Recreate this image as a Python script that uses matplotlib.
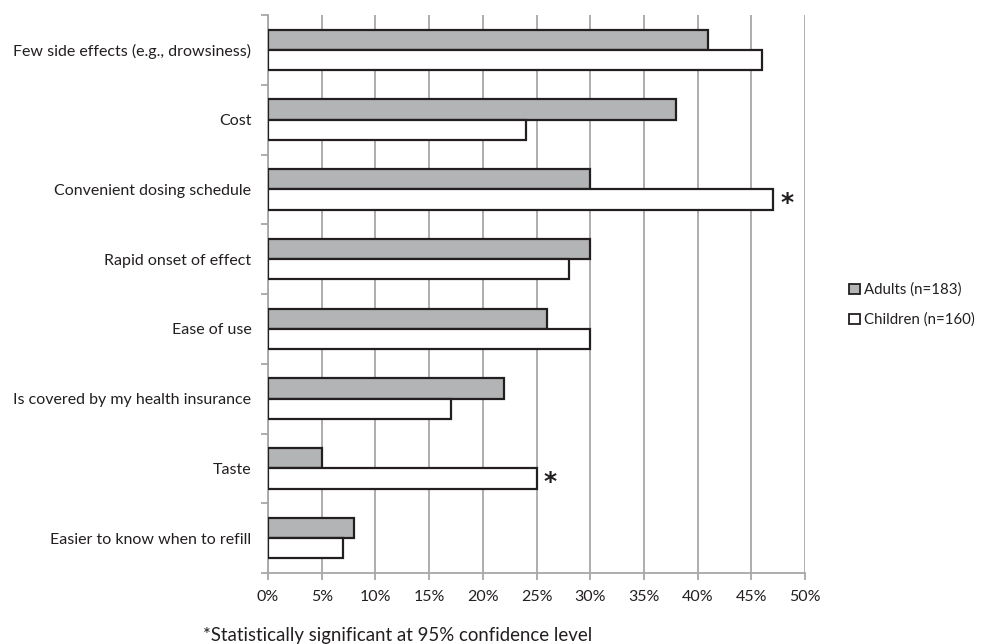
import matplotlib
matplotlib.use("Agg")
import matplotlib.pyplot as plt
from matplotlib.patches import Patch
from matplotlib.ticker import FixedLocator, FuncFormatter

plt.rcParams['font.family'] = ['Lato', 'DejaVu Sans']

categories = [
    "Few side effects (e.g., drowsiness)",
    "Cost",
    "Convenient dosing schedule",
    "Rapid onset of effect",
    "Ease of use",
    "Is covered by my health insurance",
    "Taste",
    "Easier to know when to refill",
]
adults = [41, 38, 30, 30, 26, 22, 5, 8]
children = [46, 24, 47, 28, 30, 17, 25, 7]
significant = [False, False, True, False, False, False, True, False]
series_labels = ["Adults (n=183)", "Children (n=160)"]
x_ticks = [0, 5, 10, 15, 20, 25, 30, 35, 40, 45, 50]
footnote = "*Statistically significant at 95% confidence level"

W, H = 981, 644
fig = plt.figure(figsize=(W / 100, H / 100), dpi=100)
ax = fig.add_axes([268 / W, (H - 573) / H, (805 - 268) / W, 558 / H])

grey_fill = "#b3b4b6"
edge = "#231f20"
grid_col = "#a7a7a9"
text_col = "#231f20"
fs = 11.5
bar_h = 0.292
n = len(categories)
ypos = list(range(n))

ax.barh([y - bar_h / 2 for y in ypos], adults, height=bar_h, color=grey_fill,
        edgecolor=edge, linewidth=1.6, zorder=3)
ax.barh([y + bar_h / 2 for y in ypos], children, height=bar_h, color="white",
        edgecolor=edge, linewidth=1.6, zorder=3)

# significance markers beside the children's bars
for y, val, sig in zip(ypos, children, significant):
    if sig:
        ax.text(val + 1.3, y + bar_h / 2 + 0.05, "*", fontsize=18, ha="center",
                va="center", color=edge, family="DejaVu Sans", fontweight="bold")

ax.set_xlim(0, 50)
ax.set_ylim(n - 0.5, -0.5)

ax.xaxis.set_major_locator(FixedLocator(x_ticks))
ax.xaxis.set_major_formatter(FuncFormatter(lambda v, p: f"{int(v)}%"))
ax.tick_params(axis="x", direction="out", length=5, width=1.3, color=grid_col,
               labelsize=fs, labelcolor=text_col, pad=7)
ax.grid(axis="x", color=grid_col, linewidth=1.3, zorder=0)
ax.set_axisbelow(True)

ax.set_yticks(ypos)
ax.set_yticklabels(categories)
ax.set_yticks([k - 0.5 for k in range(n + 1)], minor=True)
ax.tick_params(axis="y", which="major", length=0, pad=12, labelsize=fs,
               labelcolor=text_col)
ax.tick_params(axis="y", which="minor", direction="out", length=5, width=1.3,
               color=grid_col)

for side in ("top", "right"):
    ax.spines[side].set_visible(False)
for side in ("left", "bottom"):
    ax.spines[side].set_color(grid_col)
    ax.spines[side].set_linewidth(1.3)

handles = [
    Patch(facecolor=grey_fill, edgecolor=edge, linewidth=1.3),
    Patch(facecolor="white", edgecolor=edge, linewidth=1.3),
]
fig.legend(handles, series_labels, loc="center left",
           bbox_to_anchor=(843 / W, 1 - 305 / H), frameon=False, fontsize=10.8,
           handlelength=0.72, handleheight=0.72, handletextpad=0.3,
           labelspacing=1.05, borderaxespad=0, borderpad=0.4,
           labelcolor=text_col)

fig.text(203 / W, 1 - 635 / H, footnote, fontsize=13.4, va="center",
         ha="left", color=text_col)

fig.savefig("out.png", dpi=100)
